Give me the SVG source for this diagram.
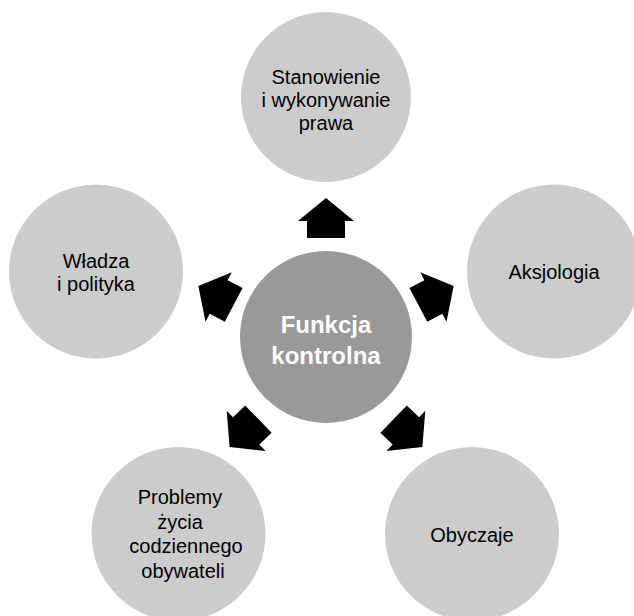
<svg xmlns="http://www.w3.org/2000/svg" width="634" height="616" viewBox="0 0 634 616">
<defs>
<style>
.outer{fill:#cccccc;}
.center{fill:#999999;}
.t{font-family:"Liberation Sans",Arial,sans-serif;font-size:20px;fill:#000;text-anchor:middle;}
.ct{font-family:"Liberation Sans",Arial,sans-serif;font-size:24px;font-weight:bold;fill:#fff;text-anchor:middle;}
.arr{fill:#000;}
</style>
<polygon id="arrow" points="0,-20 28,3 19,3 19,20 -19,20 -19,3 -28,3"/>
</defs>
<rect width="634" height="616" fill="#fff"/>
<g id="connectors">
<use href="#arrow" class="arr" transform="translate(326,218)"/>
<use href="#arrow" class="arr" transform="translate(436,295.5) rotate(62)"/>
<use href="#arrow" class="arr" transform="translate(216,295.5) rotate(-62)"/>
<use href="#arrow" class="arr" transform="translate(408,433) rotate(134)"/>
<use href="#arrow" class="arr" transform="translate(244,433) rotate(-134)"/>
</g>
<g id="node-center">
<circle class="center" cx="326" cy="337" r="86"/>
<text class="ct" x="326" y="333">Funkcja</text>
<text class="ct" x="326" y="364">kontrolna</text>
</g>
<g id="node-top">
<circle class="outer" cx="326" cy="97" r="85"/>
<text class="t" x="326" y="84">Stanowienie</text>
<text class="t" x="326" y="107">i wykonywanie</text>
<text class="t" x="326" y="130">prawa</text>
</g>
<g id="node-right">
<circle class="outer" cx="554" cy="271.5" r="87"/>
<text class="t" x="554" y="279">Aksjologia</text>
</g>
<g id="node-left">
<circle class="outer" cx="96" cy="271.5" r="87"/>
<text class="t" x="96" y="268">Władza</text>
<text class="t" x="96" y="291">i polityka</text>
</g>
<g id="node-bottom-left">
<circle class="outer" cx="178.5" cy="534" r="87"/>
<text class="t" x="180" y="504">Problemy</text>
<text class="t" x="180" y="528.5">życia</text>
<text class="t" x="186" y="553">codziennego</text>
<text class="t" x="183" y="577.5">obywateli</text>
</g>
<g id="node-bottom-right">
<circle class="outer" cx="472" cy="534" r="87"/>
<text class="t" x="472" y="542">Obyczaje</text>
</g>
</svg>
